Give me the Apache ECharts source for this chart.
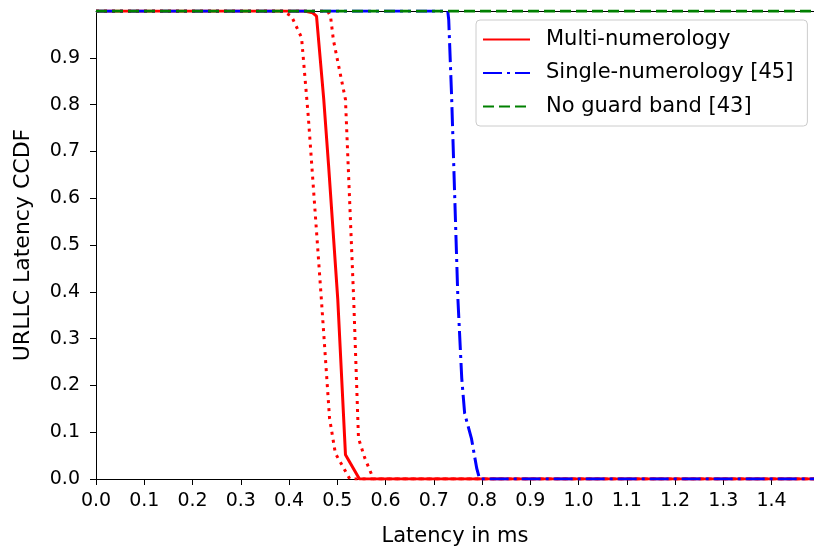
<!DOCTYPE html>
<html>
<head>
<meta charset="utf-8">
<script src="https://cdn.jsdelivr.net/npm/echarts@6/dist/echarts.min.js"></script>
<style>
html,body{margin:0;padding:0;background:#fff;}
#chart{width:814px;height:552px;}
</style>
</head>
<body>
<div id="chart"></div>
<script>
// ---- data ----
const xTicks = [0.0,0.1,0.2,0.3,0.4,0.5,0.6,0.7,0.8,0.9,1.0,1.1,1.2,1.3,1.4];
const yTicks = [0.0,0.1,0.2,0.3,0.4,0.5,0.6,0.7,0.8,0.9];
const seriesNames = ['Multi-numerology','Single-numerology [45]','No guard band [43]'];

// Multi-numerology (mean, solid)
const multiMean = [[0,1.0],[0.432,1.0],[0.449,0.996],[0.457,0.989],[0.472,0.811],[0.482,0.67],[0.501,0.385],[0.517,0.052],[0.546,0.0],[1.6,0.0]];
// Multi-numerology confidence bounds (dotted)
const multiLower = [[0,1.0],[0.387,1.0],[0.405,0.989],[0.426,0.943],[0.44,0.774],[0.467,0.385],[0.484,0.13],[0.496,0.055],[0.526,0.0],[1.6,0.0]];
const multiUpper = [[0,1.0],[0.48,1.0],[0.486,0.989],[0.492,0.938],[0.517,0.811],[0.534,0.385],[0.544,0.087],[0.557,0.045],[0.575,0.0],[1.6,0.0]];
// Single-numerology [45] (dash-dot)
const single = [[0,1.0],[0.729,1.0],[0.731,0.981],[0.737,0.817],[0.75,0.385],[0.758,0.215],[0.764,0.14],[0.778,0.087],[0.789,0.023],[0.795,0.0],[1.6,0.0]];
// No guard band [43] (dashed)
const noGuard = [[0,1.0],[1.6,1.0]];

const X_MAX = 1.488;
const Y_MAX = 1.0;

const FONT = 'DejaVu Sans';
const chart = echarts.init(document.getElementById('chart'), null, {renderer:'canvas'});
const tickTxt = {fontFamily: FONT, fontSize: 19, color: '#000'};

chart.setOption({
  animation: false,
  backgroundColor: '#fff',
  grid: {left: 96, right: 0, top: 11, bottom: 71, containLabel: false},
  legend: {
    data: seriesNames,
    orient: 'vertical',
    left: 476, top: 20,
    padding: [9, 14, 9, 6],
    itemGap: 12.5,
    itemWidth: 47, itemHeight: 14,
    itemStyle: {opacity: 0},
    backgroundColor: 'rgba(255,255,255,0.8)',
    borderColor: '#cccccc', borderWidth: 1, borderRadius: 4,
    textStyle: {fontFamily: FONT, fontSize: 21, color: '#000', lineHeight: 21, padding: [0,0,0,11]}
  },
  xAxis: [{
    type: 'value', min: 0, max: X_MAX, interval: 0.1,
    name: 'Latency in ms', nameLocation: 'middle', nameGap: 47,
    nameTextStyle: {fontFamily: FONT, fontSize: 21, color: '#000'},
    axisLine: {show: true, onZero: false, lineStyle: {color: '#000', width: 1}},
    axisTick: {show: true, length: 6, customValues: xTicks, lineStyle: {color: '#000'}},
    axisLabel: {show: true, margin: 13, customValues: xTicks, formatter: v => v.toFixed(1), ...tickTxt},
    splitLine: {show: false}
  },{
    type: 'value', min: 0, max: X_MAX, position: 'top',
    axisLine: {show: true, onZero: false, lineStyle: {color: '#000', width: 1}},
    axisTick: {show: false}, axisLabel: {show: false}, splitLine: {show: false}
  }],
  yAxis: {
    type: 'value', min: 0, max: Y_MAX, interval: 0.1,
    name: 'URLLC Latency CCDF', nameLocation: 'middle', nameGap: 62,
    nameTextStyle: {fontFamily: FONT, fontSize: 22, color: '#000'},
    axisLine: {show: true, onZero: false, lineStyle: {color: '#000', width: 1}},
    axisTick: {show: true, length: 6, customValues: yTicks, lineStyle: {color: '#000'}},
    axisLabel: {show: true, margin: 16, customValues: yTicks, formatter: v => v.toFixed(1), ...tickTxt},
    splitLine: {show: false}
  },
  series: [
    {name: seriesNames[0], type: 'line', data: multiMean, symbol: 'none', clip: true,
     lineStyle: {color: '#ff0000', width: 3}, itemStyle: {color: '#ff0000'}, z: 2},
    {name: 'lower', type: 'line', data: multiLower, symbol: 'none', clip: true,
     lineStyle: {color: '#ff0000', width: 3, type: [3, 5], cap: 'butt'}, z: 2},
    {name: 'upper', type: 'line', data: multiUpper, symbol: 'none', clip: true,
     lineStyle: {color: '#ff0000', width: 3, type: [3, 5], cap: 'butt'}, z: 2},
    {name: seriesNames[1], type: 'line', data: single, symbol: 'none', clip: true,
     lineStyle: {color: '#0000ff', width: 3, type: [19, 5, 3, 5], cap: 'butt'}, itemStyle: {color: '#0000ff'}, z: 3},
    {name: seriesNames[2], type: 'line', data: noGuard, symbol: 'none', clip: true,
     lineStyle: {color: '#008000', width: 3, type: [11, 5], cap: 'butt'}, itemStyle: {color: '#008000'}, z: 4}
  ]
});
</script>
</body>
</html>
